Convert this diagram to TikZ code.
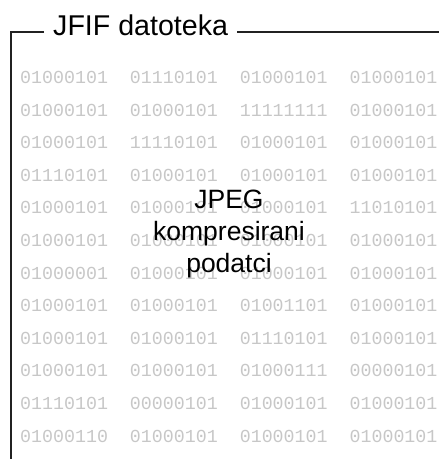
\documentclass[tikz,border=0pt]{standalone}
\usepackage{fontspec}
\setmainfont{Liberation Sans}
\setmonofont{Liberation Mono}
\usepackage{tikz}
\usetikzlibrary{positioning}

\tikzset{
	bits/.style={anchor=base west, inner sep=0pt, text=black!22, font=\ttfamily\fontsize{18.3}{18.3}\selectfont},
	frameline/.style={line width=1.8pt, draw=black!87},
}

\begin{document}
\begin{tikzpicture}[x=1pt,y=-1pt]
	\useasboundingbox (0,0) rectangle (439,459);
	% file contents, one row of bytes per line
	\foreach \j/\a/\b/\c/\d in {
		0/01000101/01110101/01000101/01000101,
		1/01000101/01000101/11111111/01000101,
		2/01000101/11110101/01000101/01000101,
		3/01110101/01000101/01000101/01000101,
		4/01000101/01000101/01000101/11010101,
		5/01000101/01000101/01000101/01000101,
		6/01000001/01000101/01000101/01000101,
		7/01000101/01000101/01001101/01000101,
		8/01000101/01000101/01110101/01000101,
		9/01000101/01000101/01000111/00000101,
		10/01110101/00000101/01000101/01000101,
		11/01000110/01000101/01000101/01000101}
	{
		\node[bits] (row\j) at (20,83.5+32.6*\j) {\a~~\b~~\c~~\d};
	}
	\node[font=\fontsize{26.5}{32}\selectfont, align=center, inner sep=0pt] (payload) at (229,234) {JPEG\\kompresirani\\podatci};

	% frame with title
	\node[font=\fontsize{28.6}{28.6}\selectfont, inner xsep=9pt, inner ysep=0pt, anchor=base west] (title) at (44,35) {JFIF datoteka};
	\coordinate (corner) at (10.8,32);
	\coordinate (bottom) at (10.8,459);
	\coordinate (edge) at (439,32);
	\draw[frameline] (title.west |- corner) -- (corner) -- (bottom);
	\draw[frameline] (title.east |- edge) -- (edge);
\end{tikzpicture}
\end{document}
